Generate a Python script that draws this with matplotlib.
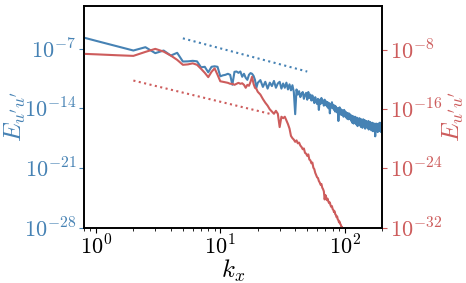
import numpy as np
import matplotlib
matplotlib.use("Agg")
import matplotlib.pyplot as plt

plt.rcParams['mathtext.fontset'] = 'cm'
plt.rcParams['font.family'] = 'serif'

blue = 'steelblue'
red = 'indianred'

# wavenumber index: kx = 0.5 * n
n_low = np.arange(1, 41)
n_blue_high = np.arange(42, 401, 2)
n_red_high = np.arange(42, 201, 2)

# log10 of the spectra
blue_low = [-4.93, -6.09, -6.75, -7.23, -6.84, -7.54, -7.23, -7.82, -7.50, -8.52,
            -8.50, -8.44, -8.50, -9.20, -9.14, -9.79, -9.14, -9.08, -9.14, -10.26,
            -10.14, -10.08, -9.96, -10.08, -11.25, -9.73, -9.69, -9.85, -9.69, -10.31,
            -9.96, -10.43, -10.67, -10.08, -9.88, -9.96, -10.20, -10.67, -11.60, -11.02]
blue_high = [-10.7, -11.5, -10.9, -11.7, -11.0, -11.4, -10.8, -11.6, -11.1, -10.9,
             -11.7, -11.1, -11.6, -11.0, -11.8, -11.2, -11.9, -11.3, -12.1, -14.7,
             -11.8, -12.4, -12.0, -12.7, -12.3, -12.1, -12.9, -12.4, -12.2, -13.0,
             -12.1, -12.8, -12.4, -13.1, -12.5, -13.0, -13.4, -12.7, -13.2, -13.5,
             -12.9, -14.2, -13.0, -13.5, -12.8, -13.4, -13.1, -13.7, -13.0, -13.6,
             -13.2, -13.8, -13.3, -14.0, -13.4, -14.6, -13.5, -13.9, -13.3, -14.0,
             -13.6, -14.2, -13.7, -14.4, -13.8, -14.1, -14.5, -14.0, -15.5, -14.3,
             -13.9, -14.6, -14.1, -14.8, -14.2, -14.7, -14.3, -15.0, -14.2, -14.8,
             -14.4, -15.0, -14.5, -15.2, -14.6, -14.9, -15.3, -14.6, -15.1, -14.7,
             -15.3, -14.8, -15.5, -15.0, -15.7, -14.9, -15.4, -15.8, -15.1, -15.5,
             -15.0, -15.7, -15.2, -15.9, -15.1, -15.6, -16.1, -15.3, -15.8, -15.2,
             -15.7, -15.2, -16.0, -15.4, -16.2, -15.3, -15.8, -15.4, -16.3, -15.5,
             -15.3, -16.0, -15.5, -16.1, -15.4, -16.4, -15.6, -16.0, -15.5, -16.2,
             -15.6, -16.3, -15.7, -16.1, -15.5, -16.5, -15.8, -16.2, -15.6, -16.4,
             -15.7, -16.3, -15.8, -16.6, -15.9, -15.7, -16.4, -16.0, -16.7, -15.8,
             -16.3, -15.8, -16.5, -16.0, -15.9, -17.3, -16.1, -16.6, -15.8, -16.4,
             -15.9, -16.6, -16.1, -16.8, -16.0, -16.5, -15.8, -16.7, -16.1, -16.5,
             -16.0, -15.7, -16.6, -15.9, -16.4, -16.8, -15.8, -16.3, -16.5, -15.9]

red_low = [-8.35, -8.55, -8.68, -8.76, -8.22, -7.81, -8.18, -8.72, -9.30, -9.97,
           -9.91, -9.77, -9.97, -10.51, -11.05, -11.64, -10.92, -10.45, -11.32, -12.20,
           -12.27, -12.34, -12.41, -12.54, -12.54, -12.68, -12.54, -12.41, -12.54, -12.47,
           -12.68, -13.08, -12.68, -12.81, -12.27, -11.59, -12.54, -13.08, -13.22, -13.62]
red_high = [-14.0, -14.6, -15.1, -15.5, -16.0, -16.3, -16.6, -16.2, -16.6, -18.4,
            -17.0, -17.2, -17.0, -17.5, -18.0, -18.6, -19.6, -19.9, -20.1, -20.4,
            -20.2, -20.6, -20.5, -20.9, -21.1, -21.4, -21.3, -21.9, -22.0, -22.3,
            -22.1, -22.8, -22.9, -23.3, -23.2, -23.9, -24.1, -24.6, -24.9, -25.2,
            -25.3, -25.7, -25.9, -26.2, -26.1, -26.6, -26.8, -27.1, -28.2, -27.6,
            -27.9, -28.3, -28.1, -28.5, -28.7, -28.6, -29.0, -29.2, -29.1, -29.5,
            -29.6, -29.9, -29.8, -30.2, -30.3, -30.6, -30.5, -30.9, -31.0, -31.3,
            -31.2, -31.5, -31.6, -31.9, -31.9, -32.2, -32.4, -32.6, -32.8, -33.0]

# reference slopes (endpoints)
blue_ref_k = [5, 50]
blue_ref_log = [-5.8, -9.7]
red_ref_k = [2, 25]
red_ref_log = [-12.1, -16.6]

x_ticks = [0, 1, 2]
left_ticks = [-28, -21, -14, -7]
right_ticks = [-32, -24, -16, -8]

kx_blue = 0.5 * np.concatenate([n_low, n_blue_high])
kx_red = 0.5 * np.concatenate([n_low, n_red_high])
E_blue = 10.0 ** np.array(blue_low + blue_high)
E_red = 10.0 ** np.array(red_low + red_high)

fig = plt.figure(figsize=(4.66, 2.83), dpi=100)
ax = fig.add_axes([0.180, 0.196, 0.640, 0.783])
ax2 = ax.twinx()

ax.loglog(kx_blue, E_blue, color=blue, lw=1.5)
ax.loglog(blue_ref_k, 10.0 ** np.array(blue_ref_log), color=blue, lw=1.5, ls=':')
ax2.loglog(kx_red, E_red, color=red, lw=1.5)
ax2.loglog(red_ref_k, 10.0 ** np.array(red_ref_log), color=red, lw=1.5, ls=':')

ax.set_xlim(0.8, 200)
ax.set_ylim(1e-28, 1e-2)
ax2.set_ylim(1e-32, 1e-2)

lab = lambda e: r'$10^{%d}$' % e
ax.set_xticks([10.0 ** e for e in x_ticks], [lab(e) for e in x_ticks])
ax.set_yticks([10.0 ** e for e in left_ticks], [lab(e) for e in left_ticks])
ax2.set_yticks([10.0 ** e for e in right_ticks], [lab(e) for e in right_ticks])
ax.yaxis.set_minor_locator(matplotlib.ticker.NullLocator())
ax2.yaxis.set_minor_locator(matplotlib.ticker.NullLocator())

ax.tick_params(axis='x', labelsize=16, pad=2)
ax.tick_params(axis='y', colors=blue, labelsize=16, pad=2)
ax2.tick_params(axis='y', colors=red, labelsize=16, pad=2)

ax.set_xlabel(r'$k_x$', fontsize=18, labelpad=-1)
ax.set_ylabel(r"$E_{u'u'}$", fontsize=18, color=blue, labelpad=-3)
ax2.set_ylabel(r"$E_{u'u'}$", fontsize=18, color=red, labelpad=-1)

for a in (ax, ax2):
    for s in a.spines.values():
        s.set_linewidth(1.2)

fig.savefig('out.png', dpi=100)
